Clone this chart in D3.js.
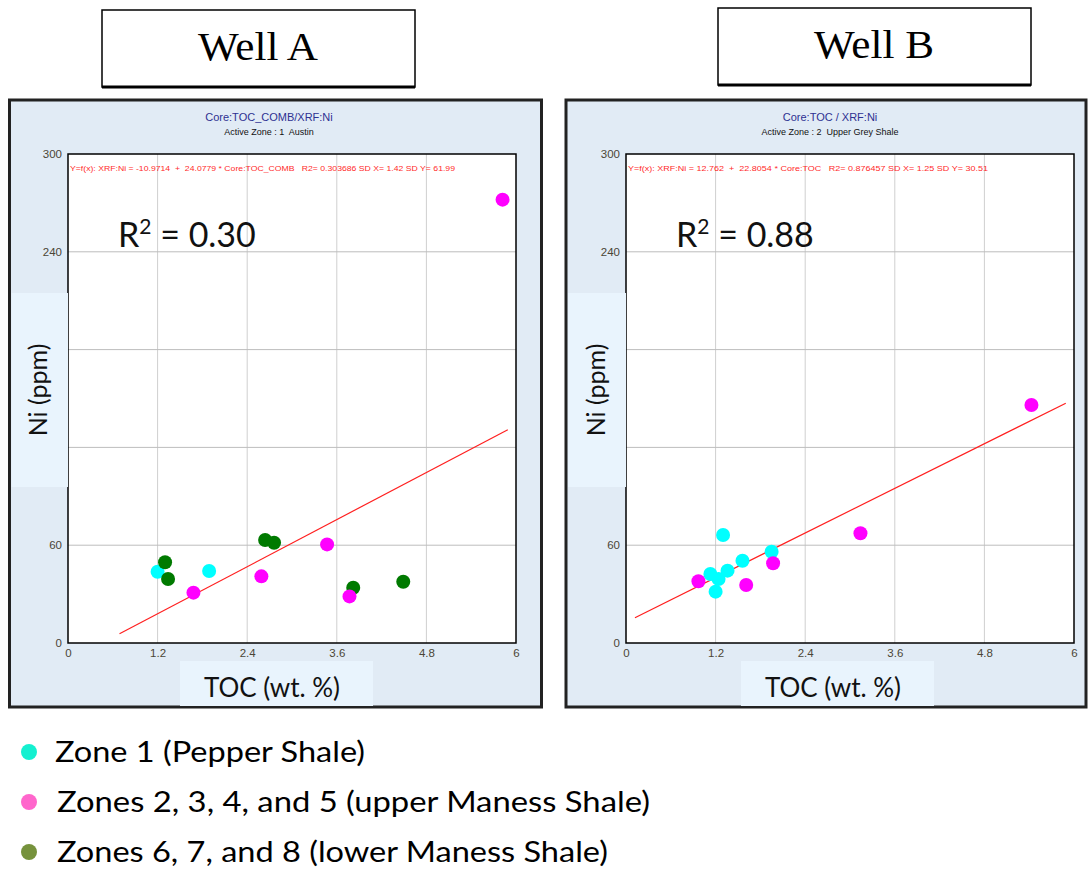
<!DOCTYPE html>
<html>
<head>
<meta charset="utf-8">
<script src="https://cdn.jsdelivr.net/npm/d3@7"></script>
<style>
  body { margin: 0; background: #fff; }
  svg { display: block; }
  text.pre { white-space: pre; }
</style>
</head>
<body>
<svg id="svg" width="1091" height="869"></svg>
<script>
// axis ticks (same for both wells)
var xTicks = [0, 1.2, 2.4, 3.6, 4.8, 6];
var yTicks = [0, 60, 120, 180, 240, 300];

// zone groups: 1 = Pepper Shale, 2 = upper Maness, 3 = lower Maness
var zoneNames = ["Zone 1 (Pepper Shale)", "Zones 2, 3, 4, and 5 (upper Maness Shale)", "Zones 6, 7, and 8 (lower Maness Shale)"];
var zoneDotColors = ["#00ffff", "#ff00ff", "#007a00"];
var legendColors = ["#14f0d0", "#ff66cc", "#76923c"];

// Well A samples
var wellA_toc = [1.20, 1.30, 1.34, 1.89, 1.68, 2.64, 2.76, 2.59, 3.47, 3.82, 3.77, 4.49, 5.82];
var wellA_ni  = [43.7, 49.5, 39.3, 44.2, 30.9, 63.2, 61.5, 40.9, 60.5, 33.9, 28.6, 37.6, 272];
var wellA_zone = [1, 3, 3, 1, 2, 3, 3, 2, 2, 3, 2, 3, 2];
var wellA_fit = {a: -10.9714, b: 24.0779, from: 0.69, to: 5.89};

// Well B samples
var wellB_toc = [5.43, 3.14, 1.30, 1.95, 1.97, 1.56, 1.36, 1.13, 1.24, 1.20, 0.97, 1.61];
var wellB_ni  = [146, 67.3, 66.3, 56.0, 48.9, 50.5, 44.4, 42.3, 39.3, 31.5, 37.9, 35.6];
var wellB_zone = [2, 2, 1, 1, 2, 1, 1, 1, 1, 1, 2, 2];
var wellB_fit = {a: 12.762, b: 22.8054, from: 0.12, to: 5.89};

var svg = d3.select("#svg");

function drawWell(cfg) {
    var g = svg.append("g");
    var f = cfg.frame;

    // panel background + frame
    g.append("rect").attr("x", f.x).attr("y", f.y).attr("width", f.w).attr("height", f.h)
        .attr("fill", "#e1ebf5").attr("stroke", "#222").attr("stroke-width", 3);

    var xScale = d3.scaleLinear().domain([0, 6]).range([cfg.left, cfg.left + 448]);
    var yScale = d3.scaleLinear().domain([0, 300]).range([643, 154]);

    // plot area
    g.append("rect").attr("x", xScale(0)).attr("y", yScale(300))
        .attr("width", xScale(6) - xScale(0)).attr("height", yScale(0) - yScale(300))
        .attr("fill", "#fff");

    // grid
    g.selectAll(".vg").data(xTicks.slice(1, -1)).enter().append("line")
        .attr("x1", function(d){ return xScale(d); }).attr("x2", function(d){ return xScale(d); })
        .attr("y1", yScale(0)).attr("y2", yScale(300))
        .attr("stroke", "#cfcfcf").attr("stroke-width", 1);
    g.selectAll(".hg").data(yTicks.slice(1, -1)).enter().append("line")
        .attr("y1", function(d){ return yScale(d); }).attr("y2", function(d){ return yScale(d); })
        .attr("x1", xScale(0)).attr("x2", xScale(6))
        .attr("stroke", "#bdbdbd").attr("stroke-width", 1);

    // axes with tick labels only
    var xAxis = g.append("g").attr("transform", "translate(0," + yScale(0) + ")")
        .call(d3.axisBottom(xScale).tickValues(xTicks).tickSize(0).tickPadding(6).tickFormat(d3.format("")));
    var yAxis = g.append("g").attr("transform", "translate(" + xScale(0) + ",0)")
        .call(d3.axisLeft(yScale).tickValues(yTicks).tickSize(0).tickPadding(6).tickFormat(d3.format("")));
    [xAxis, yAxis].forEach(function(ax){
        ax.select(".domain").remove();
        ax.selectAll("text").attr("font-family", "Liberation Sans Narrow, Liberation Sans, sans-serif")
            .attr("font-size", 11.5).attr("fill", "#4b4636");
    });

    // plot border
    g.append("rect").attr("x", xScale(0)).attr("y", yScale(300))
        .attr("width", xScale(6) - xScale(0)).attr("height", yScale(0) - yScale(300))
        .attr("fill", "none").attr("stroke", "#000").attr("stroke-width", 1.5);

    // titles
    g.append("text").attr("x", cfg.titleX).attr("y", 121).attr("text-anchor", "middle")
        .attr("font-family", "Liberation Sans, sans-serif").attr("font-size", 11)
        .attr("fill", "#2e3192").text(cfg.title);
    g.append("text").classed("pre", true).attr("x", cfg.titleX).attr("y", 135).attr("text-anchor", "middle")
        .attr("font-family", "Liberation Sans, sans-serif").attr("font-size", 9)
        .attr("fill", "#111").text(cfg.subtitle);

    // equation line
    g.append("text").classed("pre", true).attr("x", xScale(0) + 2).attr("y", 171)
        .attr("font-family", "Liberation Sans Narrow, Liberation Sans, sans-serif").attr("font-size", 8)
        .attr("fill", "#ff2a2a").attr("textLength", cfg.eqWidth).attr("lengthAdjust", "spacingAndGlyphs")
        .text(cfg.equation);

    // regression line
    var fit = cfg.fit;
    g.append("line")
        .attr("x1", xScale(fit.from)).attr("y1", yScale(fit.a + fit.b * fit.from))
        .attr("x2", xScale(fit.to)).attr("y2", yScale(fit.a + fit.b * fit.to))
        .attr("stroke", "#ff2020").attr("stroke-width", 1.2);

    // points
    var pts = cfg.toc.map(function(t, i){ return {toc: t, ni: cfg.ni[i], zone: cfg.zone[i]}; });
    g.selectAll(".pt").data(pts).enter().append("circle")
        .attr("cx", function(d){ return xScale(d.toc); })
        .attr("cy", function(d){ return yScale(d.ni); })
        .attr("r", 7)
        .attr("fill", function(d){ return zoneDotColors[d.zone - 1]; });

    // R² annotation
    var r2 = g.append("text").attr("x", cfg.r2x).attr("y", 247)
        .attr("font-family", "Lato, Open Sans, sans-serif").attr("font-size", 34).attr("fill", "#111");
    r2.append("tspan").text("R");
    r2.append("tspan").attr("dy", -13).attr("font-size", 21).text("2");
    r2.append("tspan").attr("dy", 13).text(" = " + cfg.r2);

    // Ni (ppm) label box
    g.append("rect").attr("x", f.x + 2).attr("y", 293).attr("width", xScale(0) - f.x - 2).attr("height", 194)
        .attr("fill", "#e9f4fd");
    g.append("text").attr("transform", "translate(" + (xScale(0) - 21) + ",390) rotate(-90)")
        .attr("text-anchor", "middle").attr("font-family", "Lato, Open Sans, sans-serif")
        .attr("font-size", 25).attr("fill", "#111").text("Ni (ppm)");

    // TOC label box
    g.append("rect").attr("x", cfg.tocBox).attr("y", 661).attr("width", 193).attr("height", 45)
        .attr("fill", "#e9f4fd");
    g.append("text").attr("x", cfg.tocBox + 92).attr("y", 697).attr("text-anchor", "middle")
        .attr("font-family", "Lato, Open Sans, sans-serif").attr("font-size", 26)
        .attr("fill", "#111").text("TOC (wt. %)");

    // header box
    var hb = cfg.header;
    g.append("rect").attr("x", hb.x).attr("y", hb.y).attr("width", 313).attr("height", 77)
        .attr("fill", "#fff").attr("stroke", "#000").attr("stroke-width", 1.5);
    g.append("line").attr("x1", hb.x).attr("x2", hb.x + 313).attr("y1", hb.y + 77).attr("y2", hb.y + 77)
        .attr("stroke", "#000").attr("stroke-width", 3);
    g.append("text").attr("x", hb.x + 156).attr("y", hb.y + 50).attr("text-anchor", "middle")
        .attr("font-family", "Liberation Serif, serif").attr("font-size", 40).attr("fill", "#000")
        .attr("textLength", 120).attr("lengthAdjust", "spacingAndGlyphs")
        .text(cfg.name);
}

drawWell({
    name: "Well A", header: {x: 102, y: 10},
    frame: {x: 9.5, y: 100, w: 532, h: 607},
    left: 68, titleX: 269,
    title: "Core:TOC_COMB/XRF:Ni", subtitle: "Active Zone : 1  Austin",
    equation: "Y=f(x): XRF:Ni = -10.9714  +  24.0779 * Core:TOC_COMB   R2= 0.303686 SD X= 1.42 SD Y= 61.99",
    eqWidth: 385, r2: "0.30", r2x: 118, tocBox: 180,
    toc: wellA_toc, ni: wellA_ni, zone: wellA_zone, fit: wellA_fit
});

drawWell({
    name: "Well B", header: {x: 718, y: 8},
    frame: {x: 566, y: 100, w: 520, h: 607},
    left: 626, titleX: 830,
    title: "Core:TOC / XRF:Ni", subtitle: "Active Zone : 2  Upper Grey Shale",
    equation: "Y=f(x): XRF:Ni = 12.762  +  22.8054 * Core:TOC   R2= 0.876457 SD X= 1.25 SD Y= 30.51",
    eqWidth: 360, r2: "0.88", r2x: 676, tocBox: 741,
    toc: wellB_toc, ni: wellB_ni, zone: wellB_zone, fit: wellB_fit
});

// legend
var legendWidths = [310, 593, 551];
var legend = svg.append("g");
zoneNames.forEach(function(name, i){
    var y = 752 + i * 50;
    legend.append("circle").attr("cx", 29).attr("cy", y).attr("r", 8).attr("fill", legendColors[i]);
    legend.append("text").attr("x", i === 0 ? 55 : 57).attr("y", y + 10)
        .attr("font-family", "Lato, Open Sans, sans-serif").attr("font-size", 28).attr("fill", "#000")
        .attr("textLength", legendWidths[i]).attr("lengthAdjust", "spacingAndGlyphs")
        .text(name);
});
</script>
</body>
</html>
